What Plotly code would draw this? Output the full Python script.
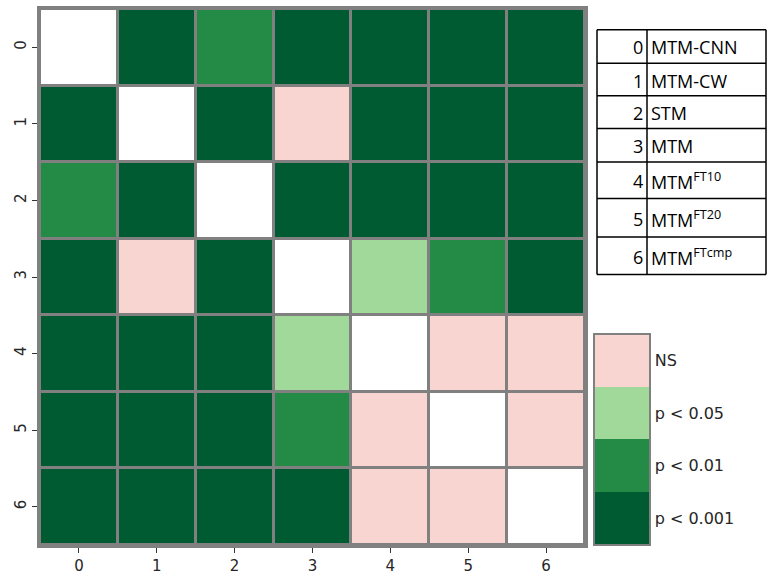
import plotly.graph_objects as go

# ---- data ----
labels = [0, 1, 2, 3, 4, 5, 6]
# significance codes: 0 = p<0.001, 1 = p<0.01, 2 = p<0.05, 3 = NS, None = diagonal
sig = [
    [None, 0, 1, 0, 0, 0, 0],
    [0, None, 0, 3, 0, 0, 0],
    [1, 0, None, 0, 0, 0, 0],
    [0, 3, 0, None, 2, 1, 0],
    [0, 0, 0, 2, None, 3, 3],
    [0, 0, 0, 1, 3, None, 3],
    [0, 0, 0, 0, 3, 3, None],
]
level_names = ["p < 0.001", "p < 0.01", "p < 0.05", "NS"]
level_colors = ["#005a32", "#238b45", "#a1d99b", "#f9d5d2"]
model_ids = ["0", "1", "2", "3", "4", "5", "6"]
model_names = ["MTM-CNN", "MTM-CW", "STM", "MTM",
               "MTM<sup>FT10</sup>", "MTM<sup>FT20</sup>", "MTM<sup>FTcmp</sup>"]

W, H = 767, 581
L, R, T, B = 40, 182, 6, 32
pw, ph = W - L - R, H - T - B

def px(x):
    return (x - L) / pw

def py(y):
    return (H - B - y) / ph

# stepped colorscale
n = len(level_colors)
cs = []
for i, c in enumerate(level_colors):
    cs.append([i / n, c])
    cs.append([(i + 1) / n, c])

diag = [[1 if i == j else None for j in range(7)] for i in range(7)]

fig = go.Figure()
fig.add_trace(go.Heatmap(
    z=sig, x=labels, y=labels, colorscale=cs, zmin=-0.5, zmax=3.5,
    xgap=3, ygap=3, hoverinfo="skip",
    colorbar=dict(
        tickmode="array", tickvals=[0, 1, 2, 3], ticktext=level_names,
        x=px(594), xanchor="left", xpad=0,
        y=0, yanchor="bottom", ypad=0,
        len=214 / ph, lenmode="fraction",
        thickness=56, thicknessmode="pixels",
        outlinecolor="#808080", outlinewidth=2,
        ticks="",
        tickfont=dict(family="DejaVu Sans", size=16, color="#262626"),
    ),
))
fig.add_trace(go.Heatmap(
    z=diag, x=labels, y=labels, colorscale=[[0, "white"], [1, "white"]],
    showscale=False, xgap=3, ygap=3, hoverinfo="skip",
))

# ---- legend table (model index -> name) ----
row_edges = [27, 61, 94, 127, 161, 198, 237, 275]
tx0, tdiv, tx1 = 597, 647, 766
shapes = []
line = dict(color="black", width=1.5)
for ye in row_edges:
    shapes.append(dict(type="line", xref="paper", yref="paper",
                       x0=px(tx0), x1=px(tx1), y0=py(ye), y1=py(ye), line=line))
for xe in (tx0, tdiv, tx1):
    shapes.append(dict(type="line", xref="paper", yref="paper",
                       x0=px(xe), x1=px(xe), y0=py(row_edges[0]), y1=py(row_edges[-1]),
                       line=line))
annotations = []
for k in range(len(model_ids)):
    yc = (row_edges[k] + row_edges[k + 1]) / 2
    annotations.append(dict(xref="paper", yref="paper", x=px(tdiv - 2), y=py(yc + 1),
                            text=model_ids[k], showarrow=False, xanchor="right",
                            yanchor="middle",
                            font=dict(family="Open Sans", size=18, color="black")))
    annotations.append(dict(xref="paper", yref="paper", x=px(tdiv + 2), y=py(yc + 1),
                            text=model_names[k], showarrow=False, xanchor="left",
                            yanchor="middle",
                            font=dict(family="Open Sans", size=18, color="black")))

axis_common = dict(
    tickmode="array", tickvals=labels, ticktext=[str(v) for v in labels],
    showgrid=False, zeroline=False, showline=True, linecolor="#808080", linewidth=3,
    mirror=True, ticks="outside", ticklen=5, tickcolor="#333333",
    tickfont=dict(family="DejaVu Sans", size=15, color="#262626"),
)
fig.update_layout(
    width=W, height=H, margin=dict(l=L, r=R, t=T, b=B),
    plot_bgcolor="#808080", paper_bgcolor="white",
    xaxis=dict(range=[-0.5, 6.5], **axis_common),
    yaxis=dict(range=[6.5, -0.5], tickangle=-90, **axis_common),
    shapes=shapes, annotations=annotations,
)
fig.write_html("out.html", config={"displayModeBar": False},
               post_script="document.body.style.margin='0';")
